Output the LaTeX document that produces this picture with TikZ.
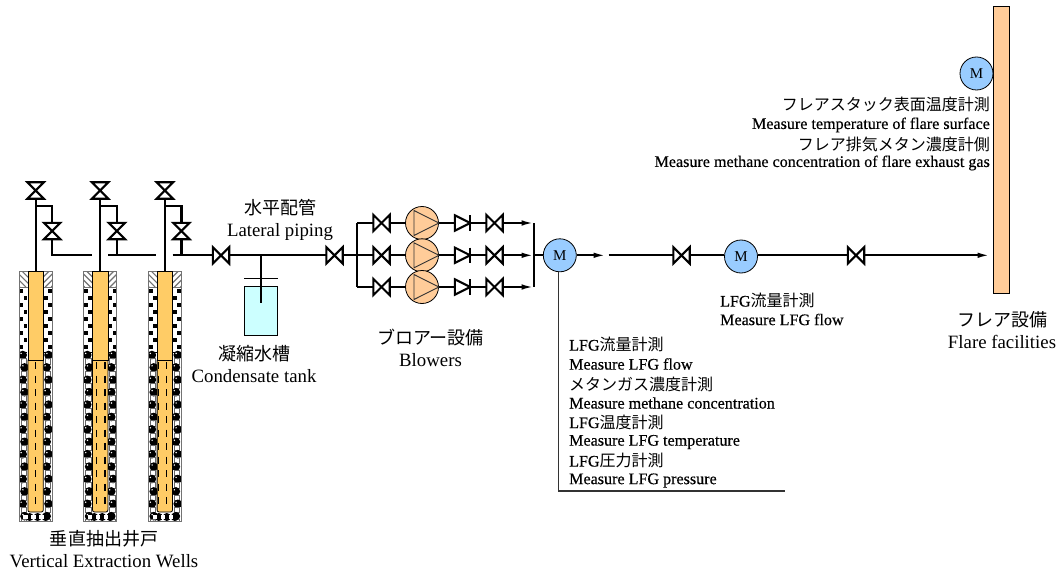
\documentclass[tikz,border=0pt]{standalone}
\usepackage{fontspec}
\setmainfont{Liberation Serif}
\newfontfamily\cjk{Noto Sans CJK JP}
\newfontfamily\heavy[FakeBold=0.45]{Liberation Serif}
\usetikzlibrary{arrows.meta,patterns}
\definecolor{casing}{HTML}{FFCC66}
\definecolor{meter}{HTML}{99CCFF}
\definecolor{pumpc}{HTML}{FFCC99}
\definecolor{tankc}{HTML}{CCFFFF}
\newcommand\jp[1]{{\cjk\fontsize{18}{22}\selectfont #1}}
\newcommand\js[1]{{\cjk\fontsize{16}{18}\selectfont #1}}
\tikzset{
  pipe/.style={line width=2.2pt,draw=black},
  pipearrow/.style={pipe,-{Latex[length=13pt,width=5.5pt]}},
  vline/.style={line width=2.1pt,draw=black,line join=miter},
  vbox/.style={inner sep=0pt,minimum width=16pt,minimum height=16pt},
  cbox/.style={inner sep=0pt,minimum width=15pt,minimum height=15pt},
  metern/.style={circle,draw=black,fill=meter,line width=0.8pt,minimum size=33pt,inner sep=0pt,font=\fontsize{15}{15}\selectfont},
  pumpn/.style={circle,draw=black,fill=pumpc,line width=0.8pt,minimum size=33pt,inner sep=0pt},
  lab/.style={inner sep=0pt,align=center,font=\fontsize{18.8}{22}\selectfont},
  meas/.style={inner sep=0pt,font=\heavy\fontsize{16.1}{18}\selectfont},
  leader/.style={line width=1.2pt,draw=black!80}
}
\newcommand\valveh[3]{\node[vbox] (#1) at (#2,#3) {};
  \draw[vline] (#1.north west) -- (#1.south east) -- (#1.north east) -- (#1.south west) -- cycle;}
\newcommand\valvev[3]{\node[vbox] (#1) at (#2,#3) {};
  \draw[vline] (#1.north west) -- (#1.north east) -- (#1.south west) -- (#1.south east) -- cycle;}
\newcommand\checkv[3]{\node[cbox] (#1) at (#2,#3) {};
  \draw[vline] (#1.north west) -- (#1.east) -- (#1.south west) -- cycle;
  \draw[line width=2.2pt] (#1.north east) -- (#1.south east);}
\newcommand\pump[3]{\node[pumpn] (#1) at (#2,#3) {};
  \draw[line width=0.9pt,draw=black!80] (#2-8,#3-12.5) -- (#1.east) -- (#2-8,#3+12.5) -- cycle;}
\newcommand\well[3]{
  \begin{scope}[shift={(#1,0)}]
    \fill[white] (-16.5,271) rectangle (16.5,521);
    \foreach \s in {-1,1}{
      \begin{scope}
        \clip (\s*16.5,271) rectangle (\s*7.7,287);
        \foreach \k in {-8,-2,...,22}
          \draw[line width=1.2pt,draw=black!55] (\s*7.7+\s*\k-\s*8,287) -- ++(\s*16,-16);
      \end{scope}}
    \begin{scope}
      \clip (-16.5,287) rectangle (16.5,352);
      \foreach \s in {-1,1}
        \foreach \n in {0,...,9}{
          \fill[black] ({\s*(12.2+2*(-1)^\n)-1.9},{291+7*\n-1.9}) rectangle ++(3.8,3.8);
        }
    \end{scope}
    \begin{scope}
      \clip (-16.5,348) rectangle (16.5,521);
      \foreach \s in {-1,1}
        \foreach \n in {0,...,13}{
          \fill[black] ({\s*(12+0.9*(-1)^\n)},{355+12.4*\n}) circle (4.3);
          \fill[white] ({\s*(12+0.9*(-1)^\n)-1.6},{355+12.4*\n-1.6}) circle (0.8);
          \draw[line width=0.7pt,draw=black!60] ({\s*12-2.7},{361.2+12.4*\n-2.7}) rectangle ++(5.4,5.4);
        }
      \foreach \x in {-6,2,10}
        \fill[black] (\x,517) circle (4);
      \foreach \x in {-10,-2,6}
        \fill[white] (\x-2.2,514.5) rectangle ++(4.4,4.6);
    \end{scope}
    \draw[line width=0.9pt,draw=black!55] (-16.5,271) rectangle (16.5,521);
    \draw[line width=0.7pt,draw=black!55] (-16.5,287) -- (-7.7,287) (7.7,287) -- (16.5,287);
    \draw[line width=0.8pt,fill=casing] (-7.7,360) -- (-7.7,509) [rounded corners=2pt] -- (-7.7,512) -- (7.7,512) [sharp corners] -- (7.7,360) -- cycle;
    \draw[line width=0.8pt,fill=casing] (-7.7,271) rectangle (7.7,360);
    \foreach \d in {#3}
      \draw[line width=1.4pt,dash pattern=on 7pt off 6.5pt] (\d,362) -- (\d,510);
  \end{scope}
}
\begin{document}
\begin{tikzpicture}[x=1pt,y=-1pt]
\useasboundingbox (0,0) rectangle (1059,572);

\well{35.6}{a}{0}
\well{100.2}{b}{-3.9,4.8}
\well{164.8}{c}{-6.5,1.9}

\foreach \n/\x in {a/35.6,b/100.2,c/164.8}{
  \valvev{top\n}{\x}{190.5}
  \valvev{side\n}{\x+16.6}{231}
  \coordinate (base\n) at (\x,271);
  \coordinate (tee\n) at (\x,206);
  \coordinate (off\n) at (\x+16.6,206);
  \coordinate (low\n) at (\x+16.6,255.3);
  \draw[pipe] (top\n.south) -- (base\n);
  \draw[pipe,line join=miter] (tee\n) -- (off\n) -- (side\n.north);
  \draw[pipe] (side\n.south) -- (low\n);
}
\coordinate (enda) at (92,255.3);
\coordinate (startb) at (108,255.3);
\coordinate (endb) at (156,255.3);
\coordinate (startc) at (172.5,255.3);
\draw[pipe] ([xshift=-1pt]lowa) -- (enda);
\draw[pipe] (startb) -- (endb);

\valveh{v1}{221}{255.3}
\valveh{v2}{334.5}{255.3}
\draw[pipe] (startc) -- (v1.west);
\draw[pipe] (v1.east) -- (v2.west);

\node[inner sep=0pt,minimum width=33pt,minimum height=49pt,draw=black,line width=0.8pt,fill=tankc] (tank) at (261.3,311.2) {};
\draw[line width=0.8pt] ([yshift=8.3pt]tank.north west) -- ([yshift=8.3pt]tank.north east);
\coordinate (teet) at (261.3,255.3);
\coordinate (dip) at (261.3,303);
\draw[pipe] (teet) -- (dip);

\coordinate (ml) at (357,255.3);
\coordinate (mlt) at (357,223);
\coordinate (mlb) at (357,287);
\coordinate (mrt) at (534,223);
\coordinate (mr) at (534,255.3);
\coordinate (mrb) at (534,287);
\draw[pipe] (v2.east) -- (ml);
\draw[pipe,line cap=square] (mlt) -- (mlb);
\draw[pipe,line cap=square] (mrt) -- (mrb);
\foreach \n/\y in {t/223,m/255.3,b/287}{
  \valveh{vi\n}{381.5}{\y}
  \pump{p\n}{422}{\y}
  \checkv{ck\n}{462.5}{\y}
  \valveh{vo\n}{494.5}{\y}
  \coordinate (hd\n) at (534.5,\y);
  \coordinate (lf\n) at (357,\y);
  \draw[pipe] (lf\n) -- (vi\n.west);
  \draw[pipe] (vi\n.east) -- (p\n.west);
  \draw[pipe] (p\n.east) -- (ck\n.west);
  \draw[pipe] (ck\n.east) -- (vo\n.west);
  \draw[pipearrow] (vo\n.east) -- (hd\n);
}

\node[metern] (m1) at (559.8,255.3) {M};
\node[metern] (m2) at (741,256.5) {M};
\node[draw=black,line width=0.9pt,fill=pumpc,inner sep=0pt,minimum width=16pt,minimum height=287pt] (flare) at (1001,149.5) {};
\node[metern] (m3) at (976.5,73.5) {M};
\coordinate (a1) at (606.5,255.3);
\coordinate (a2) at (608.5,255.3);
\coordinate (a3) at (990.5,255.3);
\valveh{v3}{681.5}{255.3}
\valveh{v4}{856}{255.3}
\draw[pipe] (mr) -- (m1.west |- mr);
\draw[pipearrow] (m1.east) -- (a1);
\draw[pipe] (a2) -- (v3.west);
\draw[pipe] (v3.east) -- (v3.east -| m2.west);
\draw[pipe] (m2.east |- v4.west) -- (v4.west);
\draw[pipearrow] (v4.east) -- (a3);

\coordinate (lc) at (558.5,491);
\coordinate (le) at (785,491);
\draw[leader] (lc |- m1.south) -- (lc) -- (le);

\node[lab] (lblw) at (104,549) {\jp{垂直抽出井戸}\\Vertical Extraction Wells};
\node[lab] (lblp) at (280,219.5) {\jp{水平配管}\\Lateral piping};
\node[lab] (lblc) at (254,364) {\jp{凝縮水槽}\\Condensate tank};
\node[lab] (lblb) at (430.5,348) {\jp{ブロアー設備}\\Blowers};
\node[lab] (lblf) at (1002,330.5) {\jp{フレア設備}\\Flare facilities};

\foreach \y/\t in {
  104.5/\js{フレアスタック表面温度計測},
  125/Measure temperature of flare surface,
  144/\js{フレア排気メタン濃度計側},
  163/Measure methane concentration of flare exhaust gas}
  \node[meas,anchor=east] at (990,\y) {\t};

\foreach \y/\t in {
  344.5/LFG\js{流量計測},
  364/Measure LFG flow,
  384/\js{メタンガス濃度計測},
  403/Measure methane concentration,
  422/LFG\js{温度計測},
  442/Measure LFG temperature,
  460.5/LFG\js{圧力計測},
  480.5/Measure LFG pressure}
  \node[meas,anchor=west] at (569,\y) {\t};

\node[meas,anchor=west] at (720,300.5) {LFG\js{流量計測}};
\node[meas,anchor=west] at (720,319.5) {Measure LFG flow};
\end{tikzpicture}
\end{document}
